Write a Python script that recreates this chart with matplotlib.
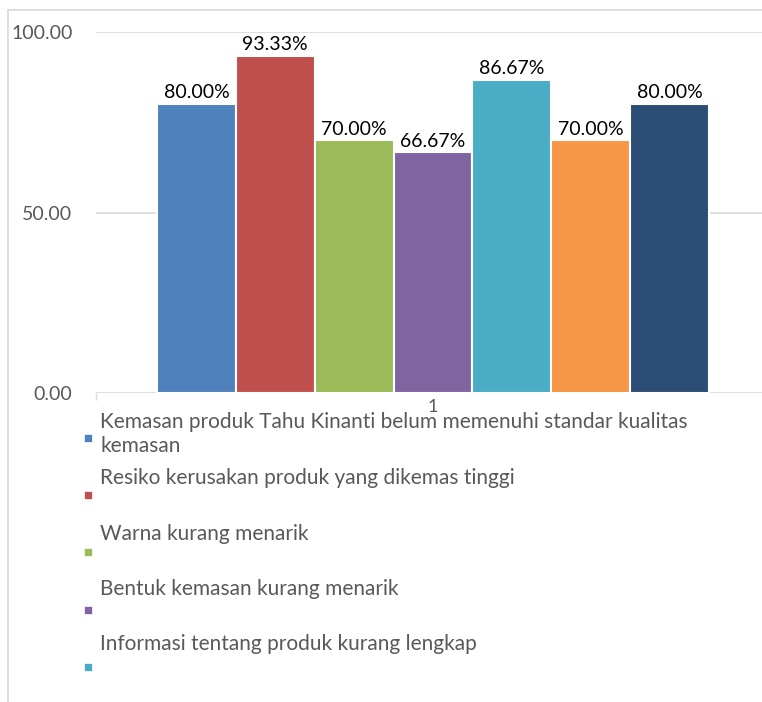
import matplotlib.pyplot as plt
from matplotlib.patches import Rectangle
from matplotlib.lines import Line2D

# data
values = [80.00, 93.33, 70.00, 66.67, 86.67, 70.00, 80.00]
colors = ["#4F81BD", "#C0504D", "#9BBB59", "#8064A2", "#4BACC6", "#F79646", "#2C4D75"]
legend_labels = [
    "Kemasan produk Tahu Kinanti belum memenuhi standar kualitas\nkemasan",
    "Resiko kerusakan produk yang dikemas tinggi",
    "Warna kurang menarik",
    "Bentuk kemasan kurang menarik",
    "Informasi tentang produk kurang lengkap",
]
yticks = [0, 50, 100]
category = "1"

plt.rcParams['font.family'] = ['Lato', 'DejaVu Sans']
W, H = 762, 702
fig = plt.figure(figsize=(W / 100, H / 100), dpi=100)

# outer chart border (cropped on right/bottom)
fig.add_artist(Line2D([8 / W, 8 / W], [0, 1 - 10 / H], color="#D9D9D9", lw=1.2))
fig.add_artist(Line2D([8 / W, 1], [1 - 10 / H, 1 - 10 / H], color="#D9D9D9", lw=1.2))

ax = fig.add_axes([96 / W, (H - 393) / H, 674 / W, 361 / H])
for s in ax.spines.values():
    s.set_visible(False)

n = len(values)
group = 0.819
bw = group / n
xs = [-group / 2 + bw * (i + 0.5) for i in range(n)]
bars = ax.bar(xs, values, width=bw, color=colors, edgecolor="white", linewidth=1.5, zorder=3)
for x, v in zip(xs, values):
    ax.annotate(f"{v:.2f}%", (x, v), xytext=(0, 2), textcoords="offset points",
                ha="center", va="bottom", fontsize=14, color="black", zorder=4)

ax.set_xlim(-0.5, 0.5)
ax.set_ylim(0, 100)
ax.set_yticks(yticks)
ax.set_yticklabels([f"{t:.2f}" for t in yticks])
ax.grid(axis="y", color="#D9D9D9", lw=1.2, zorder=0)
ax.tick_params(axis="y", length=0, pad=17, labelsize=14, labelcolor="#595959")
ax.set_xticks([0])
ax.set_xticklabels([category])
ax.tick_params(axis="x", length=0, pad=4, labelsize=13, labelcolor="#595959")
ax.set_xticks([-0.5, 0.5], minor=True)
ax.tick_params(axis="x", which="minor", length=5, width=1, color="#D9D9D9")

# legend (only the visible part of the original legend)
for i, (lab, c) in enumerate(zip(legend_labels, colors)):
    my = 438 + 57.2 * i
    ty = 423 + 55.3 * i
    fig.add_artist(Rectangle(((88 - 4) / W, 1 - (my + 4) / H), 8 / W, 8 / H,
                             facecolor=c, edgecolor="white", lw=0.5))
    if "\n" in lab:
        fig.text(100 / W, 1 - (ty - 11) / H, lab, ha="left", va="top",
                 fontsize=15, color="#595959", linespacing=1.25)
    else:
        fig.text(100 / W, 1 - ty / H, lab, ha="left", va="center",
                 fontsize=15, color="#595959")

fig.savefig("out.png", dpi=100)
